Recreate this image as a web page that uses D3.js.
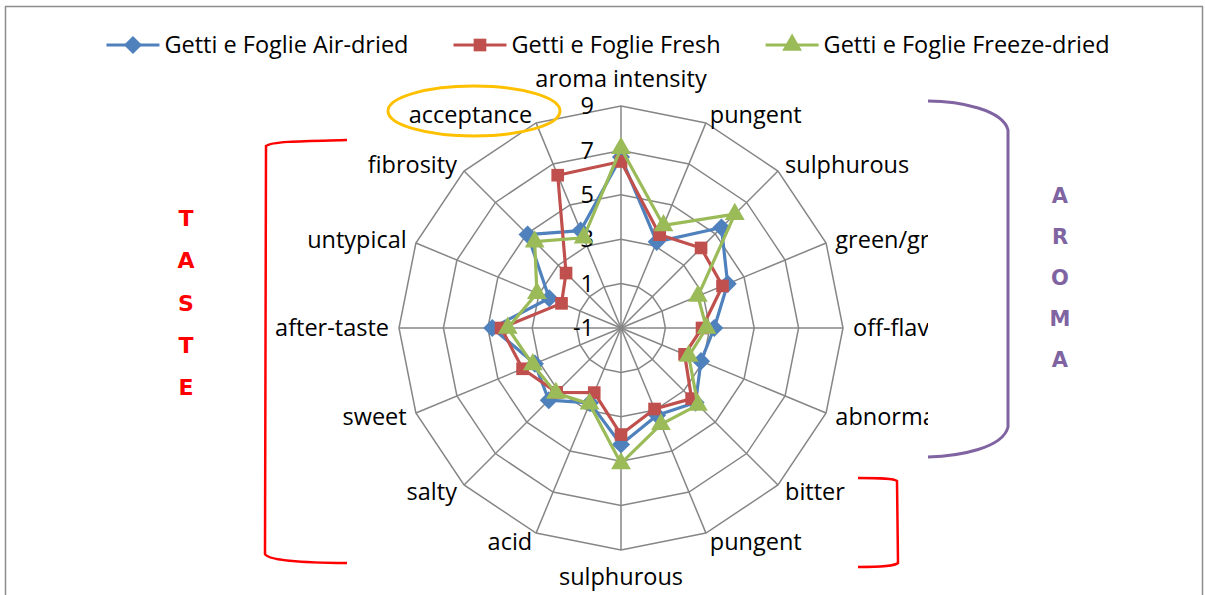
<!DOCTYPE html>
<html>
<head>
<meta charset="utf-8">
<script src="https://cdn.jsdelivr.net/npm/d3@7"></script>
<style>
  body { margin: 0; background: #fff; }
  svg { display: block; }
  text { font-family: "Open Sans", sans-serif; fill: #000; }
</style>
</head>
<body>
<div id="container"></div>
<script>
/* DATA */
const categories = ["aroma intensity", "pungent", "sulphurous", "green/grass", "off-flavour", "abnormal",
  "bitter", "pungent", "sulphurous", "acid", "salty", "sweet", "after-taste", "untypical", "fibrosity", "acceptance"];
const airDried = [6.7, 3.2, 5.4, 4.2, 3.2, 2.9, 3.75, 3.25, 4.25, 2.65, 3.6, 3.2, 4.8, 2.5, 4.95, 3.75];
const fresh = [6.5, 3.55, 4.1, 3.95, 2.65, 2.1, 3.5, 2.95, 3.8, 2.15, 3.1, 3.8, 4.4, 1.9, 2.5, 6.45];
const freezeDried = [7.1, 4.0, 6.25, 2.75, 2.85, 2.3, 3.9, 3.7, 5.1, 2.7, 3.15, 3.3, 4.1, 3.1, 4.5, 3.4];
const seriesNames = ["Getti e Foglie Air-dried", "Getti e Foglie Fresh", "Getti e Foglie Freeze-dried"];
const tickValues = [-1, 1, 3, 5, 7, 9];

/* CONSTANTS */
const width = 1205, height = 595;
const cx = 621, cy = 328, R = 222;
const colors = ["#4F81BD", "#C0504D", "#9BBB59"];
const symbols = [d3.symbolDiamond2, d3.symbolSquare, d3.symbolTriangle];
const symbolSizes = [210, 160, 170];
const fontSize = 23.5;

const svg = d3.select("#container").append("svg")
  .attr("width", width)
  .attr("height", height);

// chart frame
svg.append("rect")
  .attr("x", 5.5).attr("y", 6.5)
  .attr("width", 1197).attr("height", 620)
  .attr("fill", "none")
  .attr("stroke", "#8c8c8c")
  .attr("stroke-width", 1.5);

// clip for the plot area (labels on the right are cut)
svg.append("clipPath").attr("id", "plotClip")
  .append("rect").attr("x", 0).attr("y", 0).attr("width", 928).attr("height", height);

const r = d3.scaleLinear().domain([-1, 9]).range([0, R]);
const angle = d3.scaleLinear().domain([0, categories.length]).range([0, 2 * Math.PI]);

const point = (i, v) => [cx + r(v) * Math.sin(angle(i)), cy - r(v) * Math.cos(angle(i))];

const plot = svg.append("g").attr("clip-path", "url(#plotClip)");

// GRID RINGS
plot.selectAll("path.ring")
  .data(tickValues.slice(1))
  .join("path")
  .attr("class", "ring")
  .attr("d", v => d3.line()(categories.map((c, i) => point(i, v))) + "Z")
  .attr("fill", "none")
  .attr("stroke", "#868686")
  .attr("stroke-width", 1.5);

// SPOKES
plot.selectAll("line.spoke")
  .data(categories)
  .join("line")
  .attr("class", "spoke")
  .attr("x1", cx).attr("y1", cy)
  .attr("x2", (d, i) => point(i, 9)[0])
  .attr("y2", (d, i) => point(i, 9)[1])
  .attr("stroke", "#868686")
  .attr("stroke-width", 1.5);

// CATEGORY LABELS
plot.selectAll("text.cat")
  .data(categories)
  .join("text")
  .attr("class", "cat")
  .attr("x", (d, i) => point(i, 9)[0] + 10 * Math.sin(angle(i)))
  .attr("y", (d, i) => {
    const [, vy] = point(i, 9);
    const s = Math.sin(angle(i)), c = Math.cos(angle(i));
    const k = Math.abs(s) < 0.1 ? 27 : 9;
    return vy - c * k;
  })
  .attr("dy", "0.35em")
  .attr("text-anchor", (d, i) => {
    const s = Math.sin(angle(i));
    return Math.abs(s) < 0.1 ? "middle" : (s > 0 ? "start" : "end");
  })
  .style("font-size", fontSize + "px")
  .text(d => d);

// TICK LABELS
plot.selectAll("text.tick")
  .data(tickValues)
  .join("text")
  .attr("class", "tick")
  .attr("x", cx - 27)
  .attr("y", v => cy - r(v))
  .attr("dy", "0.35em")
  .attr("text-anchor", "end")
  .style("font-size", fontSize + "px")
  .text(d => d);

// SERIES
const allSeries = [airDried, fresh, freezeDried];
allSeries.forEach((vals, si) => {
  const pts = vals.map((v, i) => point(i, v));
  plot.append("path")
    .attr("d", d3.line()(pts) + "Z")
    .attr("fill", "none")
    .attr("stroke", colors[si])
    .attr("stroke-width", 3.2)
    .attr("stroke-linejoin", "round");
  plot.selectAll("path.m" + si)
    .data(pts)
    .join("path")
    .attr("class", "m" + si)
    .attr("transform", d => `translate(${d[0]}, ${d[1]})`)
    .attr("d", d3.symbol().type(symbols[si]).size(symbolSizes[si]))
    .attr("fill", colors[si]);
});

// LEGEND
const legend = svg.append("g");
let xCursor = 0;
seriesNames.forEach((name, si) => {
  const g = legend.append("g");
  g.append("line")
    .attr("x1", 0).attr("x2", 53).attr("y1", 0).attr("y2", 0)
    .attr("stroke", colors[si]).attr("stroke-width", 3.2);
  g.append("path")
    .attr("transform", "translate(26.5,0)")
    .attr("d", d3.symbol().type(symbols[si]).size(symbolSizes[si]))
    .attr("fill", colors[si]);
  const t = g.append("text")
    .attr("x", 58).attr("dy", "0.35em")
    .style("font-size", fontSize + "px")
    .text(name);
  const w = 58 + t.node().getComputedTextLength();
  g.attr("transform", `translate(${xCursor}, 45)`);
  xCursor += w + 45;
});
const legendWidth = xCursor - 45;
legend.attr("transform", `translate(${608 - legendWidth / 2}, 0)`);

// ANNOTATIONS
// orange ellipse around acceptance
svg.append("ellipse")
  .attr("cx", 474).attr("cy", 111)
  .attr("rx", 86).attr("ry", 25)
  .attr("fill", "none")
  .attr("stroke", "#FFC000")
  .attr("stroke-width", 3);

// red TASTE bracket
svg.append("path")
  .attr("d", "M347,140 C310,141 272,141 266,146 L265,554 C268,560 300,563 347,563")
  .attr("fill", "none").attr("stroke", "#FF0000").attr("stroke-width", 2.5);

// red small bracket (bitter / pungent / sulphurous)
svg.append("path")
  .attr("d", "M858,478 C880,478 894,478 897,481 L898,563 C895,566 880,567 858,567")
  .attr("fill", "none").attr("stroke", "#FF0000").attr("stroke-width", 2.5);

// purple AROMA bracket
svg.append("path")
  .attr("d", "M928,101 C960,101 1003,110 1008,130 L1008,427 C1003,448 960,456 928,457")
  .attr("fill", "none").attr("stroke", "#8064A2").attr("stroke-width", 3);

svg.selectAll("text.taste")
  .data("TASTE".split(""))
  .join("text")
  .attr("class", "taste")
  .attr("x", 186)
  .attr("y", (d, i) => 218 + i * 42.3)
  .attr("dy", "0.36em")
  .attr("text-anchor", "middle")
  .style("font-family", "'DejaVu Sans', sans-serif")
  .style("font-weight", "bold")
  .style("font-size", "22px")
  .style("fill", "#FF0000")
  .text(d => d);

svg.selectAll("text.aroma")
  .data("AROMA".split(""))
  .join("text")
  .attr("class", "aroma")
  .attr("x", 1060)
  .attr("y", (d, i) => 195 + i * 41.2)
  .attr("dy", "0.36em")
  .attr("text-anchor", "middle")
  .style("font-family", "'DejaVu Sans', sans-serif")
  .style("font-weight", "bold")
  .style("font-size", "21px")
  .style("fill", "#8064A2")
  .text(d => d);
</script>
</body>
</html>
